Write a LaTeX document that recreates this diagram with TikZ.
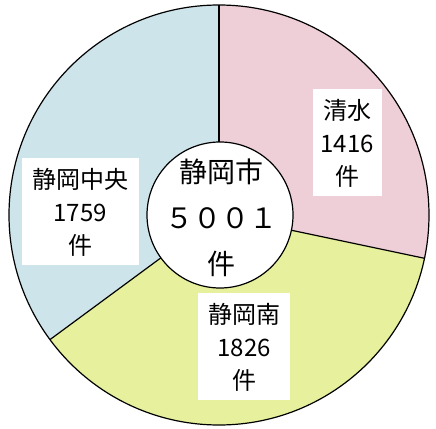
\documentclass[tikz,border=0pt]{standalone}
\usepackage{fontspec}
\setmainfont{Noto Sans CJK JP}
\definecolor{shimizupink}{RGB}{238,206,215}
\definecolor{minamigreen}{RGB}{231,240,156}
\definecolor{chuoblue}{RGB}{206,228,235}
\tikzset{
  labelbox/.style={fill=white, align=center, inner sep=0pt, minimum height=107,
    font=\fontsize{24}{33}\selectfont},
  wedge/.style={draw=black, line width=1.2pt}
}
\begin{document}
\begin{tikzpicture}[x=1pt,y=1pt]
      \useasboundingbox (0,0) rectangle (436,428);
      \coordinate (c) at (219,213);
      % slices
      \fill[shimizupink] (c) -- ++(90:210) arc (90:-11.9:210) -- cycle;
      \fill[minamigreen] (c) -- ++(-11.9:210) arc (-11.9:-143.6:210) -- cycle;
      \fill[chuoblue] (c) -- ++(-143.6:210) arc (-143.6:-270:210) -- cycle;
      \draw
        (c) ++(90:210) coordinate (top)
        (c) ++(-11.9:210) coordinate (right)
        (c) ++(-143.6:210) coordinate (left);
      \begin{scope}[wedge]
        \draw (c) circle (210);
        \draw (c) -- (top);
        \draw (c) -- (right);
        \draw (c) -- (left);
      \end{scope}
      \node[circle, draw, line width=1.2pt, fill=white, minimum size=146] (city) at (220,213) {};
      \node[align=center, font=\fontsize{28}{46}\selectfont] (total) at (221,210) {静岡市\\５００１\\件};
      \node[labelbox, minimum width=69] (shimizu) at (347,285) {清水\\1416\\件};
      \node[labelbox, minimum width=117] (chuo) at (80,216) {静岡中央\\1759\\件};
      \node[labelbox, minimum width=92] (minami) at (244,81) {静岡南\\1826\\件};
\end{tikzpicture}
\end{document}
